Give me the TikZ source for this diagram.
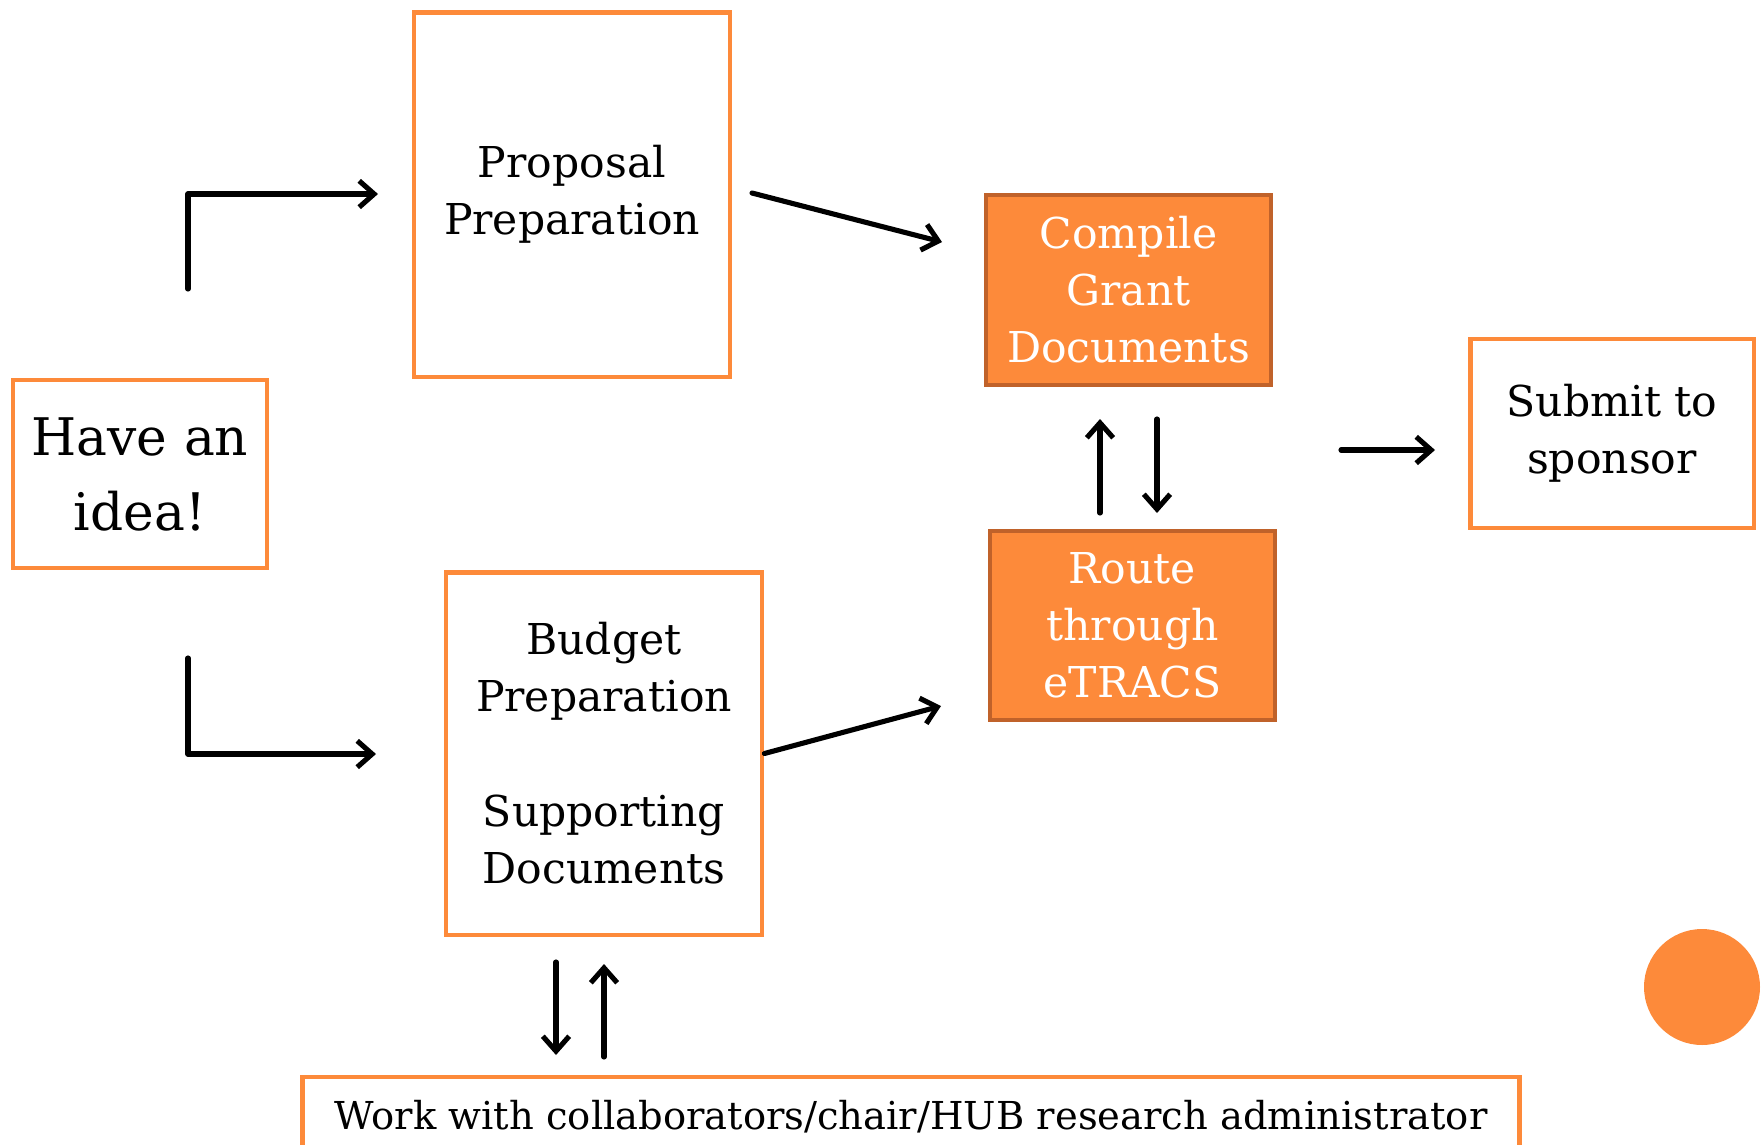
\documentclass[tikz,border=0pt]{standalone}
\usepackage{fontspec}
\setmainfont{DejaVu Serif}
\usetikzlibrary{arrows.meta}

\definecolor{naranja}{RGB}{253,138,58}
\definecolor{naranjaosc}{RGB}{192,98,42}

\tikzset{
  caja/.style={draw=naranja, line width=2.8pt, fill=white, align=center,
    font=\fontsize{24.2}{32.4}\selectfont},
  cajallena/.style={caja, draw=naranjaosc, fill=naranja, text=white},
  flecha/.style={line width=2.9pt, -{Straight Barb[length=8.5pt,width=15pt]},
    line cap=round, line join=round}
}

\begin{document}
\begin{tikzpicture}[x=0.02cm, y=-0.02cm]
  \useasboundingbox (0,0) rectangle (1762,1144);

  % Cajas
  \node[caja, minimum width=5.08cm, minimum height=3.76cm,
    font=\fontsize{29.5}{42.7}\selectfont] (idea) at (140,474) {Have an\\idea!};
  \node[caja, minimum width=6.32cm, minimum height=7.3cm] (prop) at (572,194.5) {Proposal\\Preparation};
  \node[caja, minimum width=6.32cm, minimum height=7.26cm] (budget) at (604,753.5)
    {Budget\\Preparation\\[33pt]Supporting\\Documents};
  \node[cajallena, minimum width=5.7cm, minimum height=3.8cm] (compile) at (1128.5,290)
    {Compile\\Grant\\Documents};
  \node[cajallena, minimum width=5.7cm, minimum height=3.78cm] (route) at (1132.5,625.5)
    {Route\\through\\eTRACS};
  \node[caja, minimum width=5.68cm, minimum height=3.78cm] (submit) at (1612,433.5) {Submit to\\sponsor};
  \node[caja, minimum width=24.36cm, minimum height=1.6cm,
    font=\fontsize{21.9}{28}\selectfont] (work) at (911,1117)
    {Work with collaborators/chair/HUB research administrator};

  % Flechas
  \coordinate (a1) at (188,289);
  \coordinate (a2) at (378,194);
  \draw[flecha] (a1) |- (a2);
  \coordinate (b1) at (188,658);
  \coordinate (b2) at (376,754);
  \draw[flecha] (b1) |- (b2);

  \coordinate (c1) at (752,193);
  \coordinate (c2) at (942,242);
  \draw[flecha] (c1) -- (c2);
  \coordinate (d2) at (941,706);
  \draw[flecha] (budget.east) -- (d2);

  \coordinate (e1) at (1100,513);
  \coordinate (e2) at (1100,419);
  \draw[flecha] (e1) -- (e2);
  \coordinate (f1) at (1157,419);
  \coordinate (f2) at (1157,513);
  \draw[flecha] (f1) -- (f2);

  \coordinate (g1) at (1341,450);
  \coordinate (g2) at (1435,450);
  \draw[flecha] (g1) -- (g2);

  \coordinate (h1) at (556,962);
  \coordinate (h2) at (556,1055);
  \draw[flecha] (h1) -- (h2);
  \coordinate (k1) at (604,1057);
  \coordinate (k2) at (604,964);
  \draw[flecha] (k1) -- (k2);

  % Punto
  \fill[naranja] (1702,987) circle[radius=1.16cm];
\end{tikzpicture}
\end{document}
